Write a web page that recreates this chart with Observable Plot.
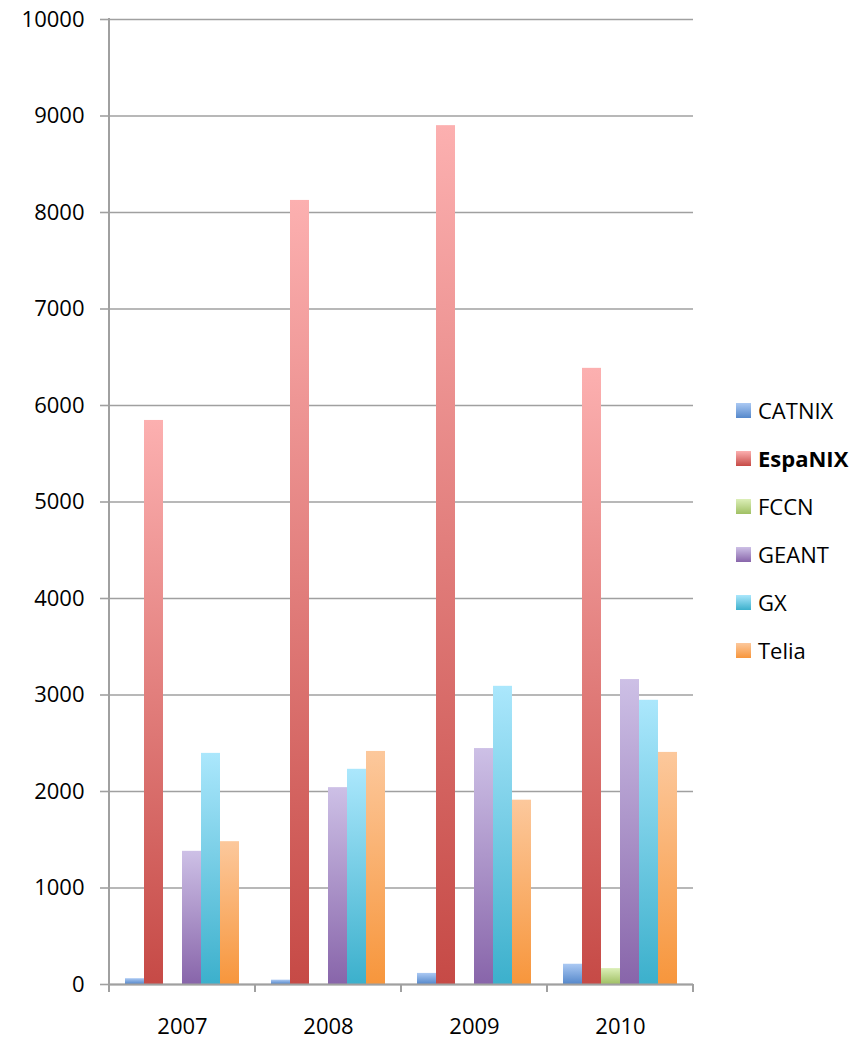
<!DOCTYPE html>
<html>
<head>
<meta charset="utf-8">
<script src="https://cdn.jsdelivr.net/npm/d3@7"></script>
<script src="https://cdn.jsdelivr.net/npm/@observablehq/plot@0.6"></script>
<style>
  body { margin: 0; background: #fff; font-family: "Open Sans", sans-serif; }
  #wrap { position: relative; width: 852px; height: 1039px; }
  #legend { position: absolute; left: 736px; top: 386px; }
  .row { display: flex; align-items: center; height: 48px; font-size: 22px; color: #000; }
  .sw { width: 15px; height: 15px; margin-right: 7px; flex: none; }
</style>
</head>
<body>
<div id="wrap"><div id="legend"></div></div>
<script>
// ---- data ----
const years = ["2007", "2008", "2009", "2010"];
const seriesNames = ["CATNIX", "EspaNIX", "FCCN", "GEANT", "GX", "Telia"];
const CATNIX  = [60, 45, 115, 210];
const EspaNIX = [5845, 8125, 8900, 6385];
const FCCN    = [null, null, null, 165];
const GEANT   = [1380, 2040, 2445, 3160];
const GX      = [2395, 2230, 3090, 2945];
const Telia   = [1480, 2415, 1910, 2405];
const yTicks  = [0, 1000, 2000, 3000, 4000, 5000, 6000, 7000, 8000, 9000, 10000];
const colorTop    = ["#abc9f3", "#fcb0b0", "#dcefb8", "#cdc0e6", "#abe7fc", "#fcc89c"];
const colorBottom = ["#5588cb", "#c64a46", "#a0c064", "#8865aa", "#3cb0cc", "#f7963c"];

const seriesValues = [CATNIX, EspaNIX, FCCN, GEANT, GX, Telia];
const data = years.flatMap((yr, i) =>
  seriesNames.map((s, k) => ({year: yr, series: s, value: seriesValues[k][i]}))
).filter(d => d.value != null);

const grid = "#a0a0a0";

const plot = Plot.plot({
  width: 852,
  height: 1039,
  marginLeft: 107,
  marginRight: 158,
  marginTop: 19,
  marginBottom: 55,
  style: {fontFamily: "Open Sans, sans-serif", fontSize: "22px", color: "#000", background: "#fff"},
  fx: {domain: years, padding: 0, label: null},
  x: {domain: seriesNames, paddingInner: 0, paddingOuter: 0.76, axis: null},
  y: {domain: [0, 10000], axis: null},
  marks: [
    Plot.gridY(yTicks, {stroke: grid, strokeOpacity: 1, strokeWidth: 1.6}),
    ...seriesNames.map((s, k) =>
      Plot.barY(data.filter(d => d.series === s), {
        fx: "year", x: "series", y: "value", inset: 0,
        fill: `url(#grad${k})`, ariaLabel: "bars-" + s
      })
    ),
    Plot.ruleY([0], {stroke: grid, strokeWidth: 2}),
    Plot.axisY(yTicks, {tickSize: 9, tickPadding: 16, tickFormat: d => String(d),
      stroke: grid, strokeWidth: 1.6, fontSize: 22, label: null}),
    Plot.axisFx({anchor: "bottom", tickSize: 0, tickPadding: 34, fontSize: 22, label: null})
  ]
});

const svg = d3.select(plot);
const defs = svg.insert("defs", ":first-child");
seriesNames.forEach((s, k) => {
  const lg = defs.append("linearGradient").attr("id", "grad" + k)
    .attr("x1", 0).attr("y1", 0).attr("x2", 0).attr("y2", 1);
  lg.append("stop").attr("offset", "0%").attr("stop-color", colorTop[k]);
  lg.append("stop").attr("offset", "100%").attr("stop-color", colorBottom[k]);
});
const f = defs.append("filter").attr("id", "shadow")
  .attr("x", "-50%").attr("y", "-10%").attr("width", "200%").attr("height", "120%");
f.append("feDropShadow").attr("dx", 2).attr("dy", 1).attr("stdDeviation", 2.5)
  .attr("flood-color", "#000").attr("flood-opacity", 0.3);
svg.selectAll("g[aria-label^='bars-']").attr("filter", "url(#shadow)");

// axis lines from the chart's own scales
const fxs = plot.scale("fx"), ys = plot.scale("y");
const xStart = fxs.apply(years[0]);
const xEnd = fxs.apply(years[years.length - 1]) + fxs.bandwidth;
const y0 = ys.apply(0), yTop = ys.apply(10000);
const ax = svg.append("g").attr("stroke", grid).attr("stroke-width", 2);
ax.append("line").attr("x1", xStart).attr("x2", xStart).attr("y1", yTop - 1).attr("y2", y0);
[...years.map(yr => fxs.apply(yr)), xEnd].forEach(x =>
  ax.append("line").attr("x1", x).attr("x2", x).attr("y1", y0).attr("y2", y0 + 8)
);

document.getElementById("wrap").prepend(plot);

// legend
const legend = d3.select("#legend");
seriesNames.forEach((s, k) => {
  const row = legend.append("div").attr("class", "row");
  row.append("div").attr("class", "sw")
    .style("background", `linear-gradient(to bottom, ${colorTop[k]}, ${colorBottom[k]})`);
  row.append("span").text(s).style("font-weight", s === "EspaNIX" ? "bold" : "normal");
});
</script>
</body>
</html>
